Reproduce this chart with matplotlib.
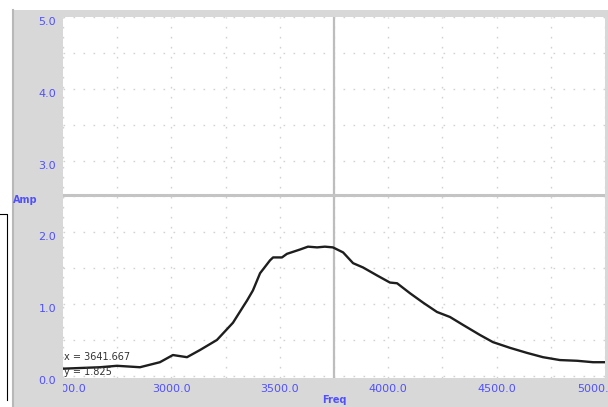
import matplotlib
matplotlib.use("Agg")
from matplotlib import pyplot as plt
from matplotlib import transforms
from matplotlib.lines import Line2D
from matplotlib.patches import Rectangle
import numpy as np

# values
freq = [2500, 2671, 2749, 2855, 2947, 3007, 3072, 3132, 3210, 3284, 3330, 3349,
        3376, 3409, 3455, 3469, 3510, 3533, 3593, 3630, 3672, 3708, 3745, 3792,
        3838, 3884, 3948, 4008, 4041, 4101, 4161, 4225, 4285, 4345, 4423, 4483,
        4562, 4640, 4714, 4792, 4871, 4945, 5000]
amp = [0.10, 0.12, 0.14, 0.12, 0.19, 0.29, 0.26, 0.36, 0.50, 0.74, 0.96, 1.05,
       1.19, 1.43, 1.61, 1.65, 1.65, 1.70, 1.76, 1.80, 1.79, 1.80, 1.79, 1.72,
       1.57, 1.51, 1.40, 1.30, 1.29, 1.15, 1.02, 0.89, 0.82, 0.71, 0.57, 0.47,
       0.39, 0.32, 0.26, 0.22, 0.21, 0.19, 0.19]

xticks = [2500, 3000, 3500, 4000, 4500, 5000]
yticks = [0.0, 1.0, 2.0, 3.0, 4.0, 5.0]
cross_x = 3750
cross_y = 2.52
readout = ["x = 3641.667", "y = 1.825"]

W, H = 608, 407
blue = "#5050ff"

fig = plt.figure(figsize=(W / 100, H / 100), dpi=100)
fig.patch.set_facecolor("white")

# grey window panel
fig.patches.append(Rectangle((12 / W, 0), 1 - 12 / W, 1 - 10 / H,
                             transform=fig.transFigure, facecolor="#d8d8d8",
                             edgecolor="none", zorder=-5))
fig.lines.append(Line2D([12.5 / W, 12.5 / W], [0, 1 - 10 / H],
                        transform=fig.transFigure, color="#b8b8b8", lw=1.5, zorder=-4))
# edge of another window on the left
fig.lines.append(Line2D([0, 6.5 / W, 6.5 / W], [1 - 214.5 / H, 1 - 214.5 / H, 1 - 400 / H],
                        transform=fig.transFigure, color="black", lw=0.8, zorder=-4))

ax = fig.add_axes([63 / W, 1 - 378 / H, (605 - 63) / W, (378 - 17) / H])
ax.set_facecolor("white")
for s in ax.spines.values():
    s.set_visible(False)

ax.set_xlim(2500, 5000)
ax.set_ylim(-0.03, 5.0)

dots = (0, (1.2, 6))
for v in np.arange(2500, 5001, 250):
    ax.axvline(v, color="#d2d2d2", lw=1, ls=dots, zorder=1)
for v in np.arange(0, 5.01, 0.5):
    ax.axhline(v, color="#d2d2d2", lw=1, ls=dots, zorder=1)

ax.axvline(cross_x, color="#bdbdbd", lw=1.6, zorder=2)
ax.axhline(cross_y, color="#c4c4c4", lw=2.2, zorder=2)

ax.plot(freq, amp, color="#1e1e1e", lw=1.7, zorder=3)

ax.set_xticks(xticks)
ax.set_xticklabels(["%.1f" % v for v in xticks])
ax.set_yticks(yticks)
ax.set_yticklabels(["%.1f" % v for v in yticks])
ax.tick_params(length=0, labelsize=8, labelcolor=blue)
ax.tick_params(axis="x", pad=4)
ax.tick_params(axis="y", pad=5)

for lab in ax.get_yticklabels():
    lab.set_transform(lab.get_transform() +
                      transforms.ScaledTranslation(0, -4 / 100, fig.dpi_scale_trans))
xlabs = ax.get_xticklabels()
xlabs[0].set_transform(xlabs[0].get_transform() +
                       transforms.ScaledTranslation(4 / 100, 0, fig.dpi_scale_trans))
xlabs[-1].set_transform(xlabs[-1].get_transform() +
                        transforms.ScaledTranslation(-8 / 100, 0, fig.dpi_scale_trans))
fig.canvas.draw()
xlabs[0].set_clip_on(True)
xlabs[0].set_clip_box(transforms.Bbox([[63, 0], [W, H]]))

fig.text(334 / W, 1 - 400 / H, "Freq", color=blue, fontsize=7, fontweight="bold",
         ha="center", va="center")
fig.text(13 / W, 1 - 200 / H, "Amp", color=blue, fontsize=7, fontweight="bold",
         ha="left", va="center")

ax.text(0.002, 0.058, readout[0], transform=ax.transAxes, fontsize=7,
        color="#333333", va="center", ha="left", zorder=4)
ax.text(0.002, 0.017, readout[1], transform=ax.transAxes, fontsize=7,
        color="#333333", va="center", ha="left", zorder=4)

fig.savefig("out.png", dpi=100)
